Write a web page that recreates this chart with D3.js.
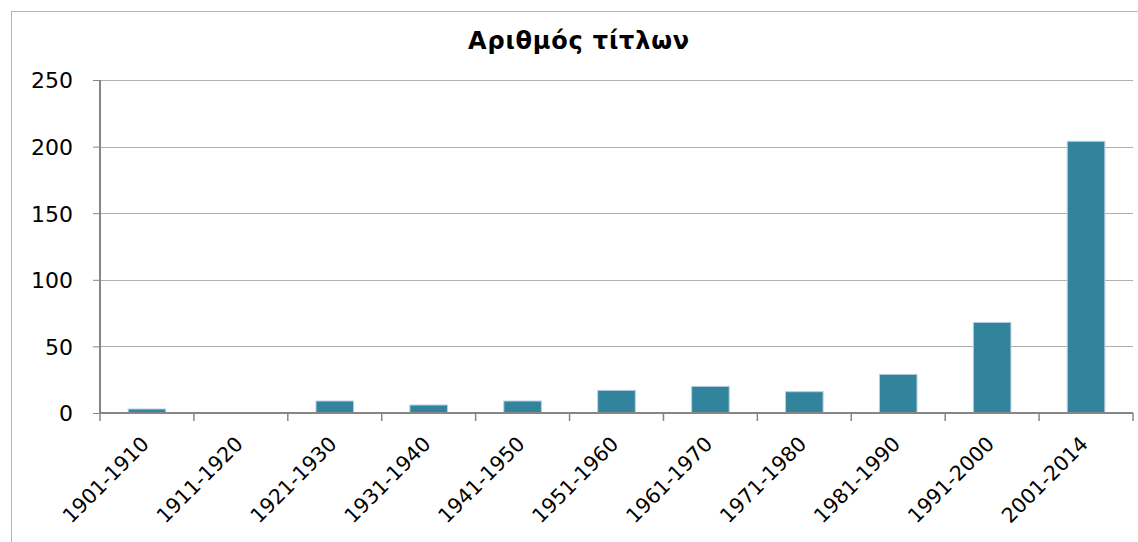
<!DOCTYPE html>
<html>
<head>
<meta charset="utf-8">
<title>Αριθμός τίτλων</title>
<script src="https://d3js.org/d3.v7.min.js"></script>
<style>
  body { margin: 0; background: #fff; }
  svg text { font-family: "DejaVu Sans", Verdana, sans-serif; }
</style>
</head>
<body>
<div id="chart"></div>
<script>
// data
var decades = ["1901-1910", "1911-1920", "1921-1930", "1931-1940", "1941-1950",
  "1951-1960", "1961-1970", "1971-1980", "1981-1990", "1991-2000", "2001-2014"];
var titles = [3, 0, 9, 6, 9, 17, 20, 16, 29, 68, 204];
var yTicks = [0, 50, 100, 150, 200, 250];

var W = 1138, H = 542;
var margin = {top: 80, right: 5, bottom: 129, left: 100};
var width = W - margin.left - margin.right,
    height = H - margin.top - margin.bottom;

var svg = d3.select("#chart").append("svg")
  .attr("width", W).attr("height", H);

// chart frame
svg.append("rect")
  .attr("x", 11.5).attr("y", 11.5)
  .attr("width", W).attr("height", H)
  .attr("fill", "none").attr("stroke", "#b3b3b3").attr("stroke-width", 1);

svg.append("text")
  .attr("x", 579).attr("y", 49)
  .attr("text-anchor", "middle")
  .attr("font-size", 24).attr("font-weight", "bold")
  .attr("letter-spacing", 0.8)
  .text("Αριθμός τίτλων");

var g = svg.append("g")
  .attr("transform", "translate(" + margin.left + "," + margin.top + ")");

var x = d3.scaleBand().domain(decades).range([0, width]).paddingInner(0).paddingOuter(0);
var y = d3.scaleLinear().domain([0, 250]).range([height, 0]);

// gridlines
g.selectAll(".grid").data(yTicks.slice(1)).enter().append("line")
  .attr("x1", 0).attr("x2", width)
  .attr("y1", d => Math.round(y(d)) + 0.5).attr("y2", d => Math.round(y(d)) + 0.5)
  .attr("stroke", "#b0b0b0").attr("stroke-width", 1);

// bars
var bw = x.bandwidth() * 0.4;
g.selectAll(".bar").data(titles).enter().append("rect")
  .attr("x", (d, i) => x(decades[i]) + (x.bandwidth() - bw) / 2)
  .attr("y", d => y(d))
  .attr("width", bw)
  .attr("height", d => height - y(d))
  .attr("fill", "#31849b")
  .attr("stroke", d => d > 0 ? "#b9cde5" : "none")
  .attr("stroke-width", 1);

// y axis
var yAxis = g.append("g")
  .call(d3.axisLeft(y).tickValues(yTicks).tickSize(7).tickPadding(20));
yAxis.select(".domain").attr("stroke", "#868686").attr("stroke-width", 2).attr("d", "M0," + height + "V0");
yAxis.selectAll(".tick line").attr("stroke", "#868686");
yAxis.selectAll("text").attr("font-size", 22).attr("fill", "#000").attr("dy", "0.36em");

// x axis
var xAxis = g.append("g").attr("transform", "translate(0," + height + ")")
  .call(d3.axisBottom(x).tickSize(0).tickFormat(""));
xAxis.select(".domain").attr("stroke", "#868686").attr("stroke-width", 2).attr("d", "M0,0H" + width);
xAxis.selectAll(".tick").remove();

var edges = decades.map(d => x(d)).concat([width]);
xAxis.selectAll(".xtick").data(edges).enter().append("line")
  .attr("x1", d => d).attr("x2", d => d)
  .attr("y1", 0).attr("y2", 8)
  .attr("stroke", "#868686").attr("stroke-width", 1.5);

xAxis.selectAll(".xlabel").data(decades).enter().append("text")
  .attr("transform", d => "translate(" + (x(d) + x.bandwidth() / 2 - 7) + ",22) rotate(-45)")
  .attr("text-anchor", "end")
  .attr("dy", "0.71em")
  .attr("font-size", 20.5)
  .attr("fill", "#000")
  .text(d => d);
</script>
</body>
</html>
